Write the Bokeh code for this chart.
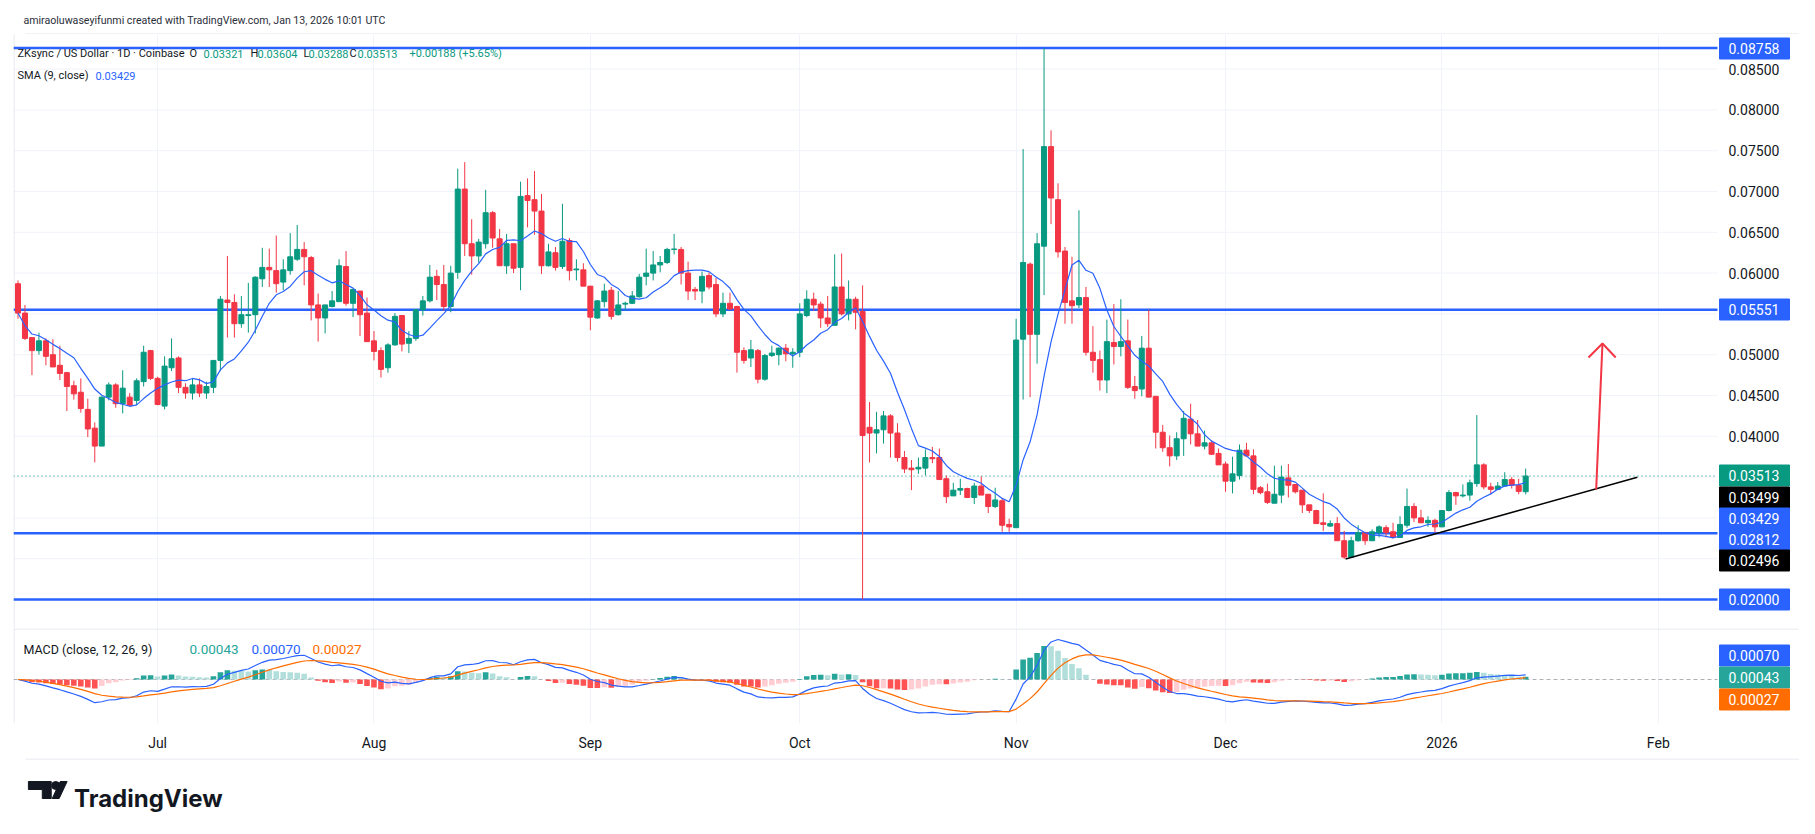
import numpy as np
import pandas as pd
from bokeh.plotting import figure
from bokeh.layouts import column
from bokeh.models import ColumnDataSource, Range1d, FixedTicker
from bokeh.embed import file_html
from bokeh.resources import INLINE
from bokeh.core.properties import value

# ---------------- data ----------------
start_date = "2025-06-11"

opens = [
    0.0587, 0.0551, 0.0521, 0.0505, 0.0517, 0.0500, 0.0487, 0.0478, 0.0462, 0.0454,
    0.0433, 0.0410, 0.0388, 0.0448, 0.0463, 0.0440, 0.0448, 0.0444, 0.0467, 0.0505,
    0.0471, 0.0437, 0.0484, 0.0496, 0.0460, 0.0453, 0.0463, 0.0453, 0.0460, 0.0493,
    0.0567, 0.0564, 0.0538, 0.0548, 0.0549, 0.0593, 0.0607, 0.0603, 0.0589, 0.0603,
    0.0617, 0.0629, 0.0619, 0.0561, 0.0545, 0.0559, 0.0565, 0.0608, 0.0563, 0.0578,
    0.0551, 0.0517, 0.0505, 0.0484, 0.0512, 0.0548, 0.0514, 0.0520, 0.0555, 0.0566,
    0.0596, 0.0586, 0.0559, 0.0601, 0.0703, 0.0636, 0.0621, 0.0636, 0.0674, 0.0642,
    0.0609, 0.0636, 0.0607, 0.0695, 0.0690, 0.0676, 0.0609, 0.0625, 0.0608, 0.0640,
    0.0604, 0.0604, 0.0584, 0.0545, 0.0565, 0.0579, 0.0549, 0.0562, 0.0563, 0.0571,
    0.0596, 0.0600, 0.0610, 0.0613, 0.0629, 0.0629, 0.0600, 0.0580, 0.0578, 0.0597,
    0.0586, 0.0550, 0.0563, 0.0559, 0.0505, 0.0496, 0.0505, 0.0470, 0.0499, 0.0500,
    0.0508, 0.0501, 0.0503, 0.0548, 0.0568, 0.0562, 0.0545, 0.0536, 0.0583, 0.0550,
    0.0568, 0.0553, 0.0411, 0.0404, 0.0408, 0.0425, 0.0404, 0.0374, 0.0361, 0.0360,
    0.0361, 0.0374, 0.0374, 0.0348, 0.0327, 0.0334, 0.0336, 0.0325, 0.0339, 0.0329,
    0.0314, 0.0321, 0.0292, 0.0288, 0.0519, 0.0611, 0.0525, 0.0633, 0.0755, 0.0690,
    0.0627, 0.0566, 0.0561, 0.0570, 0.0503, 0.0494, 0.0469, 0.0515, 0.0510, 0.0517,
    0.0461, 0.0458, 0.0508, 0.0449, 0.0405, 0.0386, 0.0376, 0.0397, 0.0421, 0.0403,
    0.0388, 0.0392, 0.0379, 0.0366, 0.0345, 0.0352, 0.0383, 0.0376, 0.0337, 0.0332,
    0.0318, 0.0328, 0.0349, 0.0341, 0.0334, 0.0316, 0.0309, 0.0294, 0.0290, 0.0293,
    0.0272, 0.0252, 0.0272, 0.0282, 0.0272, 0.0282, 0.0288, 0.0283, 0.0276, 0.0291,
    0.0314, 0.0300, 0.0294, 0.0297, 0.0289, 0.0309, 0.0331, 0.0327, 0.0328, 0.0342,
    0.0365, 0.0338, 0.0335, 0.0339, 0.0347, 0.0340, 0.03321,
]
highs = [
    0.0591, 0.0561, 0.0521, 0.0527, 0.0520, 0.0519, 0.0511, 0.0479, 0.0468, 0.0471,
    0.0446, 0.0417, 0.0449, 0.0466, 0.0465, 0.0481, 0.0453, 0.0471, 0.0511, 0.0506,
    0.0473, 0.0498, 0.0520, 0.0498, 0.0465, 0.0471, 0.0471, 0.0467, 0.0493, 0.0572,
    0.0621, 0.0574, 0.0572, 0.0588, 0.0596, 0.0631, 0.0630, 0.0646, 0.0617, 0.0649,
    0.0659, 0.0638, 0.0621, 0.0575, 0.0561, 0.0578, 0.0617, 0.0627, 0.0580, 0.0578,
    0.0570, 0.0529, 0.0509, 0.0514, 0.0551, 0.0548, 0.0529, 0.0556, 0.0572, 0.0610,
    0.0604, 0.0610, 0.0609, 0.0728, 0.0736, 0.0666, 0.0642, 0.0702, 0.0676, 0.0654,
    0.0648, 0.0636, 0.0712, 0.0716, 0.0725, 0.0697, 0.0636, 0.0632, 0.0685, 0.0643,
    0.0617, 0.0612, 0.0584, 0.0567, 0.0587, 0.0583, 0.0578, 0.0565, 0.0578, 0.0599,
    0.0630, 0.0627, 0.0621, 0.0631, 0.0648, 0.0632, 0.0614, 0.0583, 0.0602, 0.0601,
    0.0594, 0.0576, 0.0576, 0.0560, 0.0509, 0.0518, 0.0507, 0.0501, 0.0511, 0.0509,
    0.0513, 0.0508, 0.0563, 0.0579, 0.0576, 0.0565, 0.0572, 0.0623, 0.0624, 0.0591,
    0.0571, 0.0585, 0.0442, 0.0430, 0.0431, 0.0427, 0.0416, 0.0382, 0.0371, 0.0374,
    0.0384, 0.0387, 0.0385, 0.0352, 0.0343, 0.0348, 0.0337, 0.0343, 0.0351, 0.0329,
    0.0337, 0.0324, 0.0299, 0.0544, 0.0752, 0.0613, 0.0649, 0.08758, 0.0775, 0.0710,
    0.0632, 0.0620, 0.0677, 0.0583, 0.0535, 0.0505, 0.0543, 0.0562, 0.0568, 0.0543,
    0.0474, 0.0523, 0.0555, 0.0449, 0.0414, 0.0401, 0.0405, 0.0431, 0.0440, 0.0420,
    0.0407, 0.0395, 0.0385, 0.0369, 0.0375, 0.0390, 0.0392, 0.0384, 0.0339, 0.0342,
    0.0364, 0.0364, 0.0366, 0.0341, 0.0334, 0.0316, 0.0310, 0.0330, 0.0297, 0.0301,
    0.0284, 0.0277, 0.0291, 0.0283, 0.0286, 0.0291, 0.0291, 0.0294, 0.0302, 0.0336,
    0.0318, 0.0310, 0.0302, 0.0299, 0.0309, 0.0334, 0.0332, 0.0341, 0.0347, 0.0426,
    0.0367, 0.0343, 0.0344, 0.0356, 0.0350, 0.0348, 0.03604,
]
lows = [
    0.0544, 0.0518, 0.0475, 0.0500, 0.0487, 0.0485, 0.0469, 0.0431, 0.0445, 0.0429,
    0.0399, 0.0368, 0.0388, 0.0444, 0.0435, 0.0428, 0.0437, 0.0438, 0.0461, 0.0469,
    0.0438, 0.0433, 0.0480, 0.0453, 0.0446, 0.0445, 0.0448, 0.0446, 0.0453, 0.0480,
    0.0521, 0.0521, 0.0533, 0.0527, 0.0526, 0.0583, 0.0583, 0.0576, 0.0579, 0.0598,
    0.0615, 0.0585, 0.0542, 0.0516, 0.0526, 0.0558, 0.0565, 0.0560, 0.0546, 0.0523,
    0.0516, 0.0493, 0.0472, 0.0478, 0.0511, 0.0504, 0.0502, 0.0517, 0.0548, 0.0564,
    0.0567, 0.0554, 0.0552, 0.0593, 0.0621, 0.0598, 0.0613, 0.0630, 0.0631, 0.0609,
    0.0599, 0.0600, 0.0579, 0.0656, 0.0647, 0.0599, 0.0608, 0.0603, 0.0605, 0.0591,
    0.0591, 0.0584, 0.0530, 0.0544, 0.0558, 0.0543, 0.0548, 0.0554, 0.0562, 0.0570,
    0.0585, 0.0591, 0.0601, 0.0611, 0.0623, 0.0586, 0.0567, 0.0567, 0.0563, 0.0580,
    0.0546, 0.0546, 0.0555, 0.0478, 0.0489, 0.0485, 0.0465, 0.0468, 0.0497, 0.0487,
    0.0492, 0.0484, 0.0497, 0.0546, 0.0554, 0.0533, 0.0534, 0.0536, 0.0548, 0.0542,
    0.0531, 0.0200, 0.0368, 0.0379, 0.0391, 0.0374, 0.0369, 0.0355, 0.0334, 0.0354,
    0.0352, 0.0367, 0.0347, 0.0318, 0.0327, 0.0328, 0.0325, 0.0317, 0.0328, 0.0306,
    0.0312, 0.0283, 0.0283, 0.0288, 0.0445, 0.0448, 0.0489, 0.0573, 0.0660, 0.0619,
    0.0538, 0.0538, 0.0557, 0.0499, 0.0478, 0.0456, 0.0453, 0.0488, 0.0498, 0.0458,
    0.0446, 0.0449, 0.0448, 0.0385, 0.0381, 0.0363, 0.0371, 0.0376, 0.0390, 0.0388,
    0.0384, 0.0377, 0.0365, 0.0332, 0.0330, 0.0347, 0.0375, 0.0329, 0.0329, 0.0317,
    0.0318, 0.0318, 0.0325, 0.0330, 0.0306, 0.0306, 0.0293, 0.0284, 0.0289, 0.0272,
    0.02496, 0.0252, 0.0271, 0.0267, 0.0272, 0.0276, 0.0276, 0.0275, 0.0276, 0.0288,
    0.0295, 0.0294, 0.0289, 0.0282, 0.0289, 0.0308, 0.0316, 0.0325, 0.0321, 0.0338,
    0.0335, 0.0329, 0.0334, 0.0338, 0.0336, 0.0329, 0.03288,
]
closes = [
    0.0551, 0.0520, 0.0505, 0.0517, 0.0498, 0.0485, 0.0477, 0.0461, 0.0452, 0.0434,
    0.0409, 0.0388, 0.0448, 0.0463, 0.0440, 0.0459, 0.0438, 0.0468, 0.0503, 0.0471,
    0.0439, 0.0486, 0.0495, 0.0460, 0.0453, 0.0463, 0.0453, 0.0461, 0.0493, 0.0568,
    0.0564, 0.0538, 0.0549, 0.0549, 0.0595, 0.0607, 0.0604, 0.0587, 0.0604, 0.0620,
    0.0629, 0.0620, 0.0561, 0.0545, 0.0561, 0.0566, 0.0609, 0.0563, 0.0580, 0.0549,
    0.0516, 0.0504, 0.0482, 0.0512, 0.0547, 0.0513, 0.0520, 0.0555, 0.0566, 0.0595,
    0.0586, 0.0559, 0.0600, 0.0703, 0.0636, 0.0621, 0.0638, 0.0674, 0.0643, 0.0609,
    0.0636, 0.0606, 0.0694, 0.0689, 0.0676, 0.0609, 0.0626, 0.0607, 0.0639, 0.0603,
    0.0605, 0.0584, 0.0546, 0.0566, 0.0578, 0.0547, 0.0561, 0.0563, 0.0572, 0.0595,
    0.0600, 0.0610, 0.0613, 0.0629, 0.06295, 0.0600, 0.0578, 0.0578, 0.0596, 0.0583,
    0.0550, 0.0563, 0.0556, 0.0503, 0.0493, 0.0506, 0.0470, 0.0499, 0.0502, 0.0508,
    0.0501, 0.0503, 0.0550, 0.0568, 0.0561, 0.0545, 0.0538, 0.0583, 0.0550, 0.0568,
    0.0552, 0.0401, 0.0404, 0.0408, 0.0425, 0.0404, 0.0374, 0.0360, 0.0359, 0.0362,
    0.0374, 0.03725, 0.0347, 0.0326, 0.0334, 0.0336, 0.0325, 0.0339, 0.0328, 0.0314,
    0.0322, 0.0291, 0.0289, 0.0518, 0.0613, 0.0525, 0.0636, 0.0755, 0.0692, 0.0626,
    0.0564, 0.0560, 0.0570, 0.0503, 0.0493, 0.0469, 0.0516, 0.0510, 0.0516, 0.0460,
    0.0456, 0.0508, 0.0448, 0.0405, 0.0386, 0.0376, 0.0397, 0.0422, 0.0403, 0.0388,
    0.0392, 0.0378, 0.0365, 0.0345, 0.0354, 0.0383, 0.0376, 0.0335, 0.0331, 0.0319,
    0.0329, 0.0350, 0.0340, 0.0332, 0.0316, 0.0309, 0.0293, 0.0292, 0.0293, 0.0272,
    0.0252, 0.0272, 0.0282, 0.0272, 0.0283, 0.0289, 0.0282, 0.0276, 0.0292, 0.0314,
    0.0300, 0.0294, 0.0297, 0.0289, 0.0309, 0.0331, 0.0327, 0.0328, 0.0343, 0.0365,
    0.0338, 0.0335, 0.0339, 0.0347, 0.0340, 0.03325, 0.03513,
]

month_ticks = [20, 51, 82, 112, 143, 173, 204, 235]
month_labels = ["Jul", "Aug", "Sep", "Oct", "Nov", "Dec", "2026", "Feb"]
price_ticks = [0.020, 0.025, 0.030, 0.035, 0.040, 0.045, 0.050, 0.055,
               0.060, 0.065, 0.070, 0.075, 0.080, 0.085]
levels = [0.08758, 0.05551, 0.02812, 0.02000]
trend_x = [190.2, 232.0]
trend_y = [0.02496, 0.03499]
arrow_x = [226.1, 227.0]
arrow_y = [0.03348, 0.05137]
wing_x = [225.0, 227.0, 228.9]
wing_y = [0.04966, 0.05137, 0.04966]

header_text = "amiraoluwaseyifunmi created with TradingView.com, Jan 13, 2026 10:01 UTC"
symbol_text = "ZKsync / US Dollar · 1D · Coinbase"
ohlc_letters = ["O", "H", "L", "C"]
ohlc_values = ["0.03321", "0.03604", "0.03288", "0.03513"]
change_text = "+0.00188 (+5.65%)"
sma_title = "SMA (9, close)"
sma_value_text = "0.03429"
macd_title = "MACD (close, 12, 26, 9)"
macd_value_texts = ["0.00043", "0.00070", "0.00027"]
trend_badges = ["0.03499", "0.02496"]

# ---------------- styling / layout constants ----------------
UP, DOWN = "#089981", "#F23645"
BLUE, ORANGE, TEAL = "#2962FF", "#FF6D00", "#26A69A"
TEXT, GRID, BORDER = "#131722", "#F0F3FA", "#E0E3EB"
FONT = "Roboto"
W = 1799
X0, DX = 17.5, 6.98          # pixel of first bar, pixels per day
Y0, P0, PPU = 599.0, 0.02, 8160.0
PANE_R = 1717                # right edge of the plotting pane (price scale starts)
SCALE_TXT = 1728             # left of the price scale texts


def dx(xr):
    return (xr - X0) / DX


def dy(yr):
    return P0 + (Y0 - yr) / PPU


# ---------------- derived series ----------------
n = len(closes)
assert len(opens) == n and len(highs) == n and len(lows) == n
idx = np.arange(n)
dates = pd.date_range(start_date, periods=n, freq="D")
cl = pd.Series(closes)
sma = cl.rolling(9, min_periods=1).mean()
ema12 = cl.ewm(span=12, adjust=False).mean()
ema26 = cl.ewm(span=26, adjust=False).mean()
macd = ema12 - ema26
signal = macd.ewm(span=9, adjust=False).mean()
hist = macd - signal
hist_colors = []
for k, h in enumerate(hist):
    prev = hist.iloc[k - 1] if k > 0 else 0.0
    if h >= 0:
        hist_colors.append("#26A69A" if h >= prev else "#B2DFDB")
    else:
        hist_colors.append("#FF5252" if h <= prev else "#FFCDD2")

src = ColumnDataSource(dict(
    i=idx, date=dates, o=opens, h=highs, l=lows, c=closes,
    top=np.maximum(opens, closes), bottom=np.minimum(opens, closes),
    color=[UP if c >= o else DOWN for o, c in zip(opens, closes)],
))

# ---------------- header ----------------
hdr = figure(width=W, height=34, x_range=Range1d(0, W), y_range=Range1d(34, 0),
             x_axis_location=None, y_axis_location=None, toolbar_location=None,
             output_backend="svg", min_border=0, title=None)
hdr.outline_line_color = None
hdr.grid.grid_line_color = None
hdr.text(x=[10], y=[20], text=[header_text], text_font=value(FONT), text_font_size="10.6px",
         text_color="#2a2e39", text_baseline="middle")
hdr.segment(x0=[12], y0=[33.5], x1=[W], y1=[33.5], line_color=BORDER, line_width=1)


def text(fig, x, y, s, color, size="11px"):
    fig.text(x=[x], y=[y], text=[s], text_color=color, text_font=value(FONT),
             text_font_size=size, text_baseline="middle", text_align="left")


def badge(fig, y, h, s, color):
    fig.rect(x=[dx(1754)], y=[y], width=70 / DX, height=h, fill_color=color,
             line_color=color)
    text(fig, dx(SCALE_TXT), y, s, "white", "14px")


# ---------------- main price pane ----------------
p = figure(width=W, height=594, x_range=Range1d(dx(13), dx(W)), y_range=Range1d(dy(628), dy(34)),
           x_axis_location=None, y_axis_location=None, toolbar_location=None,
           output_backend="svg", min_border_left=13, min_border_right=0,
           min_border_top=0, min_border_bottom=0, title=None)
p.outline_line_color = None
p.xgrid.ticker = FixedTicker(ticks=month_ticks)
p.xgrid.grid_line_color = GRID
p.ygrid.grid_line_color = None

# horizontal grid of the price scale
p.segment(x0=dx(13), x1=dx(PANE_R), y0=price_ticks, y1=price_ticks, line_color=GRID, line_width=1)
p.segment(x0=[dx(13.5)], x1=[dx(13.5)], y0=[dy(628)], y1=[dy(34)], line_color=BORDER, line_width=1)

# horizontal levels and last-price line
p.segment(x0=dx(13), x1=dx(PANE_R), y0=levels, y1=levels, line_color=BLUE, line_width=2.5)
p.segment(x0=[dx(13)], x1=[dx(PANE_R)], y0=[closes[-1]], y1=[closes[-1]], line_color=UP,
          line_width=1, line_dash="1 3")

# candles
p.segment(x0="i", y0="l", x1="i", y1="h", line_color="color", line_width=1, source=src)
p.vbar(x="i", width=0.72, top="top", bottom="bottom", fill_color="color",
       line_color="color", line_width=1, source=src)
p.line(idx, sma, line_color=BLUE, line_width=1.2)

# drawings
p.line(trend_x, trend_y, line_color="#000000", line_width=1.5)
p.line(arrow_x, arrow_y, line_color=DOWN, line_width=2)
p.line(wing_x, wing_y, line_color=DOWN, line_width=2)

# price scale labels
p.text(x=dx(SCALE_TXT), y=price_ticks, text=[f"{t:.5f}" for t in price_ticks], text_color=TEXT,
       text_font=value(FONT), text_font_size="14px", text_baseline="middle", text_align="left")

# legend texts
text(p, dx(17), dy(53), symbol_text, TEXT)
for letter, val, xl, xv in zip(ohlc_letters, ohlc_values, [189, 250, 303, 349], [203, 257, 308, 357]):
    text(p, dx(xl), dy(53), letter, TEXT)
    text(p, dx(xv), dy(53), val, UP)
text(p, dx(409), dy(53), change_text, UP)
text(p, dx(17), dy(75), sma_title, TEXT)
text(p, dx(95), dy(75), sma_value_text, BLUE)

# price scale badges
BH = 21 / PPU
badge(p, dy(48), BH, f"{levels[0]:.5f}", BLUE)
badge(p, dy(309), BH, f"{levels[1]:.5f}", BLUE)
badge(p, dy(475), BH, ohlc_values[3], UP)
badge(p, dy(497), BH, trend_badges[0], "#000000")
badge(p, dy(518), BH, sma_value_text, BLUE)
badge(p, dy(539), BH, f"{levels[2]:.5f}", BLUE)
badge(p, dy(560), BH, trend_badges[1], "#000000")
badge(p, dy(599), BH, f"{levels[3]:.5f}", BLUE)

# ---------------- MACD pane ----------------
scale = 40.0 / float(macd.max())          # pixels per unit
ZERO = 679.0


def my(yr):
    return (ZERO - yr) / scale


q = figure(width=W, height=130, x_range=p.x_range, y_range=Range1d(my(723), my(628)),
           y_axis_location=None, toolbar_location=None, output_backend="svg",
           min_border_left=13, min_border_right=0, min_border_top=0, min_border_bottom=35,
           title=None)
q.outline_line_color = None
q.ygrid.grid_line_color = None
q.xgrid.ticker = FixedTicker(ticks=month_ticks)
q.xgrid.grid_line_color = GRID
q.xaxis.ticker = FixedTicker(ticks=month_ticks)
q.xaxis.major_label_overrides = {t: l for t, l in zip(month_ticks, month_labels)}
q.xaxis.axis_line_color = None
q.xaxis.major_tick_line_color = None
q.xaxis.minor_tick_line_color = None
q.xaxis.major_tick_out = 0
q.xaxis.major_tick_in = 0
q.xaxis.major_label_standoff = 11
q.xaxis.major_label_text_font = FONT
q.xaxis.major_label_text_font_size = "14px"
q.xaxis.major_label_text_color = TEXT

q.segment(x0=[dx(13)], x1=[dx(W)], y0=[my(628.5)], y1=[my(628.5)], line_color=BORDER, line_width=1)
q.segment(x0=[dx(13.5)], x1=[dx(13.5)], y0=[my(723)], y1=[my(628)], line_color=BORDER, line_width=1)
q.segment(x0=[dx(13)], x1=[dx(PANE_R)], y0=[0], y1=[0], line_color="#787B86", line_alpha=0.6,
          line_width=1, line_dash="4 3")
q.vbar(x=idx, top=hist.values, bottom=0, width=0.8, fill_color=hist_colors, line_color=None)
q.line(idx, macd.values, line_color=BLUE, line_width=1.2)
q.line(idx, signal.values, line_color=ORANGE, line_width=1.2)

text(q, dx(23), my(649), macd_title, TEXT, "12.5px")
text(q, dx(189), my(649), macd_value_texts[0], TEAL, "13.5px")
text(q, dx(251), my(649), macd_value_texts[1], BLUE, "13.5px")
text(q, dx(312), my(649), macd_value_texts[2], ORANGE, "13.5px")

MBH = 21 / scale
badge(q, my(655), MBH, macd_value_texts[1], BLUE)
badge(q, my(677), MBH, macd_value_texts[0], TEAL)
badge(q, my(699), MBH, macd_value_texts[2], ORANGE)

# ---------------- footer (TradingView logo) ----------------
ft = figure(width=W, height=60, x_range=Range1d(0, W), y_range=Range1d(818, 758),
            x_axis_location=None, y_axis_location=None, toolbar_location=None,
            output_backend="svg", min_border=0, title=None)
ft.outline_line_color = None
ft.grid.grid_line_color = None
ft.segment(x0=[12], y0=[758.5], x1=[W], y1=[758.5], line_color=BORDER, line_width=1)
ft.patch([15, 38, 38, 29, 29, 15], [781, 781, 798, 798, 789, 789], color="#131722")
ft.scatter([42.5], [785], size=8, color="#131722")
ft.patch([47, 54, 46, 39], [781, 781, 798, 798], color="#131722")
ft.text(x=[61], y=[798], text=["TradingView"], text_font=value("Inter"), text_font_size="24px",
        text_font_style="bold", text_color="#131722", text_baseline="alphabetic")

layout = column(hdr, p, q, ft, spacing=0)
open("out.html", "w").write(file_html(layout, INLINE))
